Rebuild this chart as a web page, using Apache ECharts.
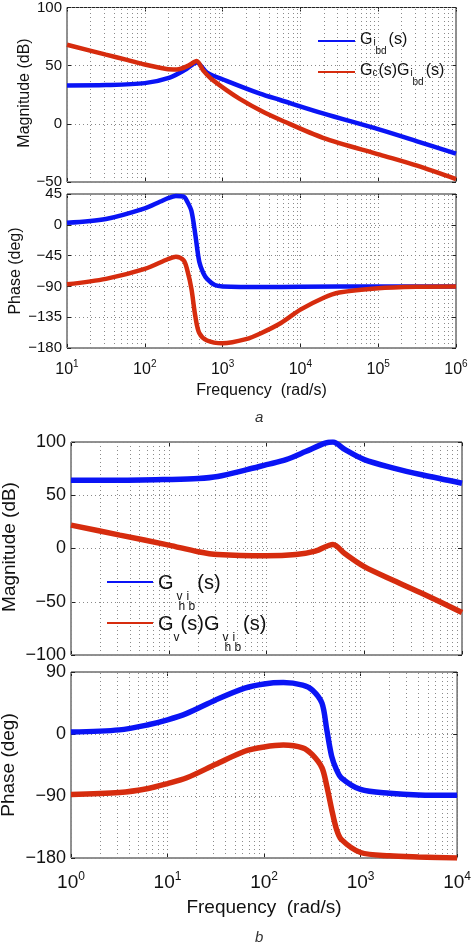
<!DOCTYPE html>
<html><head><meta charset="utf-8">
<script src="https://cdn.jsdelivr.net/npm/echarts@6/dist/echarts.min.js"></script>
<style>html,body{margin:0;padding:0;background:#fff}#c{width:474px;height:943px}</style>
</head><body><div id="c"></div>
<script>
// ---------- Data (frequency given as log10 exponent of rad/s) ----------
// Panel a, magnitude (dB)
const aMagBlueExp = [1, 1.5, 2, 2.32, 2.53, 2.667, 2.8, 3.05, 3.48, 3.74, 4.29, 5.02, 5.5, 6];
const aMagBlueVal = [33, 33.3, 35, 39.7, 46.9, 52.8, 44, 37, 26, 20.5, 9, -5, -15, -25.6];
const aMagRedExp  = [1, 1.5, 1.77, 2, 2.28, 2.41, 2.56, 2.667, 2.75, 2.85, 3.05, 3.22, 3.5, 3.74, 4.29, 5.02, 5.5, 6];
const aMagRedVal  = [68, 59.5, 55, 51, 47.2, 46.8, 50, 54, 46, 39, 29, 21.5, 11, 3.5, -12, -26.5, -36, -47.5];
// Panel a, phase (deg)
const aPhBlueExp = [1, 1.5, 2, 2.2, 2.3, 2.4, 2.5, 2.55, 2.6, 2.65, 2.7, 2.75, 2.8, 2.9, 3, 3.5, 4, 5, 6];
const aPhBlueVal = [3, 8.5, 24, 34, 39, 42, 41, 33, 20, -15, -54, -70, -79, -88, -90, -91, -90.5, -90, -90];
const aPhRedExp  = [1, 1.5, 2, 2.3, 2.4, 2.5, 2.55, 2.6, 2.65, 2.7, 2.8, 3, 3.3, 3.5, 3.75, 4, 4.3, 4.5, 5, 5.5, 6];
const aPhRedVal  = [-87, -79, -64.5, -50, -46.5, -52, -68, -94, -134, -158, -169, -173, -167, -158, -143.5, -124, -106.5, -99, -92.7, -90.5, -90];
// Panel b, magnitude (dB)
const bMagBlueExp = [0, 0.5, 1, 1.3, 1.5, 1.8, 2, 2.2, 2.4, 2.6, 2.68, 2.8, 3, 3.3, 3.6, 4];
const bMagBlueVal = [64, 64, 64.8, 65.7, 67.6, 74, 78.7, 83.4, 91, 99, 100, 93, 83.4, 75.5, 69, 61.3];
const bMagRedExp  = [0, 0.5, 1, 1.3, 1.5, 2, 2.3, 2.5, 2.68, 2.8, 3, 3.3, 3.6, 4];
const bMagRedVal  = [22, 12.6, 3.2, -3, -5.7, -6.9, -5.7, -2.5, 3.8, -4.7, -17, -30, -42.5, -60];
// Panel b, phase (deg)
const bPhExp     = [0, 0.5, 0.8, 1, 1.2, 1.5, 1.8, 2, 2.2, 2.4, 2.5, 2.6, 2.65, 2.7, 2.75, 2.8, 3, 3.3, 3.6, 4];
const bPhBlueVal = [2.9, 6, 13.4, 20.6, 30, 49.5, 66.5, 72.7, 74.6, 71, 64, 44.8, 6, -32, -51.6, -63.6, -80.5, -86, -88.5, -89];
const bPhRedVal  = [-88, -85, -79, -72, -63.6, -44, -25, -18.8, -16, -20, -30, -49, -75.7, -109, -138, -153, -172, -176.8, -178.5, -180];

// Axis ranges / ticks
const aFreqRange = [10, 1e6];
const bFreqRange = [1, 1e4];
const aMagTicks = {min: -50, max: 100, interval: 50};
const aPhTicks  = {min: -180, max: 45, interval: 45};
const bMagTicks = {min: -100, max: 100, interval: 50};
const bPhTicks  = {min: -180, max: 90, interval: 90};

// Series names (legend)
const A1 = 'Gibd', A2 = 'GcGibd', B1 = 'Gvhib', B2 = 'GvGvhib';

// ---------- Build chart ----------
const FONT = 'Liberation Sans, Arial, Helvetica, sans-serif';
const BLUE = '#0a14f5', RED = '#d62c0e';
const pairs = (exps, vals) => exps.map((e, i) => [Math.pow(10, e), vals[i]]);
const minusFmt = v => String(v).replace('-', '\u2212');
function minorVals(range) {
  const out = [];
  const n0 = Math.round(Math.log10(range[0])), n1 = Math.round(Math.log10(range[1]));
  for (let n = n0; n <= n1; n++) {
    out.push({xAxis: Math.pow(10, n)});
    if (n < n1) for (let k = 2; k <= 9; k++) out.push({xAxis: k * Math.pow(10, n)});
  }
  return out;
}
const dotted = {type: [1, 3], color: '#8a8a8a', width: 1};

const panels = [
  {grid: {left: 67, right: 18, top: 6, height: 176}, fr: aFreqRange, yt: aMagTicks, fs: 15, nfs: 16, xlabels: false,
   yName: 'Magnitude (dB)', yNamePos: [25, 93], lw: 4.5,
   series: [[A1, BLUE, pairs(aMagBlueExp, aMagBlueVal)], [A2, RED, pairs(aMagRedExp, aMagRedVal)]]},
  {grid: {left: 67, right: 18, top: 194, height: 154}, fr: aFreqRange, yt: aPhTicks, fs: 15, nfs: 16, xlabels: true,
   yName: 'Phase (deg)', yNamePos: [16, 271], lw: 4.5,
   xName: 'Frequency  (rad/s)', xGap: 35, xfs: 16, supFs: 10, xMargin: 11, tenPad: 3,
   series: [[A1, BLUE, pairs(aPhBlueExp, aPhBlueVal)], [A2, RED, pairs(aPhRedExp, aPhRedVal)]]},
  {grid: {left: 71, right: 12, top: 442, height: 213}, fr: bFreqRange, yt: bMagTicks, fs: 18, nfs: 19, xlabels: false,
   yName: 'Magnitude (dB)', yNamePos: [10, 547], lw: 5.5,
   series: [[B1, BLUE, pairs(bMagBlueExp, bMagBlueVal)], [B2, RED, pairs(bMagRedExp, bMagRedVal)]]},
  {grid: {left: 71, right: 12, top: 672, height: 186}, fr: bFreqRange, yt: bPhTicks, fs: 18, nfs: 19, xlabels: true,
   yName: 'Phase (deg)', yNamePos: [9, 765], lw: 5.5,
   xName: 'Frequency  (rad/s)', xGap: 40, xfs: 19, supFs: 12, xMargin: 13, tenPad: 2,
   series: [[B1, BLUE, pairs(bPhExp, bPhBlueVal)], [B2, RED, pairs(bPhExp, bPhRedVal)]]}
];

const grid = [], xAxis = [], yAxis = [], series = [], graphic = [];
const tick = {show: true, inside: true, length: 4, lineStyle: {color: '#222'}};
const noLine = {show: false, onZero: false};
panels.forEach((p, i) => {
  grid.push(Object.assign({show: true, borderColor: '#222', borderWidth: 1, backgroundColor: '#fff'}, p.grid));
  xAxis[i] = {
    type: 'log', logBase: 10, gridIndex: i, min: p.fr[0], max: p.fr[1], position: 'bottom',
    axisLine: noLine, axisTick: tick,
    splitLine: {show: false},
    axisLabel: p.xlabels ? {
      show: true, margin: p.xMargin, color: '#111', fontFamily: FONT, fontSize: p.fs,
      formatter: v => '{ten|10}{sup|' + Math.round(Math.log10(v)) + '}',
      rich: {
        ten: {fontSize: p.fs + 1, fontFamily: FONT, color: '#111', verticalAlign: 'top', lineHeight: p.fs + 2, padding: [p.tenPad, 0, 0, 0]},
        sup: {fontSize: p.supFs, fontFamily: FONT, color: '#111', verticalAlign: 'top', lineHeight: p.supFs + 1, padding: [0, 0, 0, 0]}
      }
    } : {show: false},
    name: p.xName || '', nameLocation: 'middle', nameGap: p.xGap || 0,
    nameTextStyle: {fontFamily: FONT, fontSize: p.xfs || p.fs, color: '#111'}
  };
  xAxis[i + 4] = {
    type: 'log', logBase: 10, gridIndex: i, min: p.fr[0], max: p.fr[1], position: 'top',
    axisLine: noLine, axisTick: tick, axisLabel: {show: false}, splitLine: {show: false}
  };
  yAxis[i] = {
    type: 'value', gridIndex: i, min: p.yt.min, max: p.yt.max, interval: p.yt.interval, position: 'left',
    axisLine: noLine, axisTick: tick,
    splitLine: {show: true, lineStyle: dotted},
    axisLabel: {margin: 5, color: '#111', fontFamily: FONT, fontSize: p.fs, formatter: minusFmt}
  };
  yAxis[i + 4] = {
    type: 'value', gridIndex: i, min: p.yt.min, max: p.yt.max, interval: p.yt.interval, position: 'right',
    axisLine: noLine, axisTick: tick, axisLabel: {show: false}, splitLine: {show: false}
  };
  // y-axis title (rotated text)
  graphic.push({
    type: 'text', x: p.yNamePos[0], y: p.yNamePos[1], rotation: Math.PI / 2, silent: true,
    style: {text: p.yName, fontFamily: FONT, fontSize: p.nfs, fill: '#111', align: 'center', verticalAlign: 'middle'}
  });
  p.series.forEach((s, j) => {
    const ser = {
      type: 'line', name: s[0], xAxisIndex: i, yAxisIndex: i, data: s[2],
      showSymbol: false, symbol: 'none', smooth: 0.3,
      lineStyle: {color: s[1], width: p.lw}, itemStyle: {color: s[1]}, z: 3 + j
    };
    if (j === 0) {
      ser.markLine = {silent: true, symbol: ['none', 'none'], label: {show: false}, animation: false,
        lineStyle: dotted, data: minorVals(p.fr), z: 1};
    }
    series.push(ser);
  });
});

// Rich text styles for legend (subscripts), all top-aligned with padding offsets
function legRich(fs, sfs, k, p1, p2) {
  const base = {fontFamily: FONT, color: '#111', verticalAlign: 'top'};
  return {
    g:   Object.assign({}, base, {fontSize: fs, lineHeight: fs + 2, padding: [k, 0, 0, 0]}),
    s1:  Object.assign({}, base, {fontSize: sfs, lineHeight: sfs + 2, padding: [k + p1, 1, 0, 0]}),
    s1n: Object.assign({}, base, {fontSize: sfs, lineHeight: sfs + 2, padding: [k + p1, 0, 0, 1], width: 2}),
    s1v: Object.assign({}, base, {fontSize: sfs, lineHeight: sfs + 2, padding: [k + p1, 0, 0, 3], width: 2}),
    s2:  Object.assign({}, base, {fontSize: sfs, lineHeight: sfs + 2, padding: [k + p2, 2, 0, 0]}),
    s2h: Object.assign({}, base, {fontSize: sfs, lineHeight: sfs + 2, padding: [k + p2, 0, 0, 0], width: 7})
  };
}
const legendText = {
  [A1]: '{g|G}{s1n|i}{s2|bd}{g|(s)}',
  [A2]: '{g|G}{s1|c}{g|(s)G}{s1n|i}{s2|bd}{g|(s)}',
  [B1]: '{g|G}{s1v|v}{s2h|h}{s1n|i}{s2|b}{g|(s)}',
  [B2]: '{g|G}{s1|v}{g|(s)G}{s1v|v}{s2h|h}{s1n|i}{s2|b}{g|(s)}'
};
const richA = legRich(16, 10, 0, 5, 14);
const richB = legRich(20, 12, 2, 18, 28);
const mkLegend = (name, left, top, w, rich) => ({
  data: [name], orient: 'vertical', left, top, padding: 0, itemWidth: w, itemHeight: 2, icon: 'rect',
  itemGap: 0, formatter: n => legendText[n], textStyle: {rich}, selectedMode: false
});

const option = {
  animation: false,
  backgroundColor: '#fff',
  textStyle: {fontFamily: FONT},
  title: [
    {text: 'a', left: 250, top: 405, textStyle: {fontStyle: 'italic', fontWeight: 'normal', fontSize: 15, color: '#333', fontFamily: FONT}},
    {text: 'b', left: 250, top: 925, textStyle: {fontStyle: 'italic', fontWeight: 'normal', fontSize: 15, color: '#333', fontFamily: FONT}}
  ],
  legend: [
    mkLegend(A1, 318, 32, 37, richA),
    mkLegend(A2, 318, 63, 37, richA),
    mkLegend(B1, 107, 571, 46, richB),
    mkLegend(B2, 107, 612, 46, richB)
  ],
  graphic,
  grid, xAxis, yAxis, series
};
const chart = echarts.init(document.getElementById('c'), null, {renderer: 'canvas'});
chart.setOption(option);
</script></body></html>
